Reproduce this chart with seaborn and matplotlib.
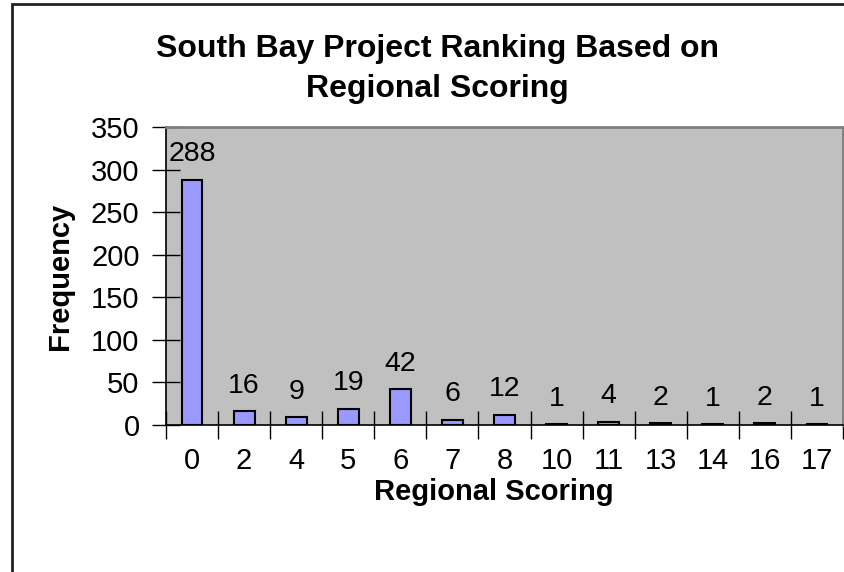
import matplotlib
matplotlib.use("Agg")
import matplotlib.pyplot as plt
import seaborn as sns
import pandas as pd
from matplotlib.patches import Rectangle

categories = ["0", "2", "4", "5", "6", "7", "8", "10", "11", "13", "14", "16", "17"]
frequency = [288, 16, 9, 19, 42, 6, 12, 1, 4, 2, 1, 2, 1]
title_lines = ["South Bay Project Ranking Based on", "Regional Scoring"]
xlabel = "Regional Scoring"
ylabel = "Frequency"

df = pd.DataFrame({"score": categories, "freq": frequency})

sns.set_theme(style="white")
plt.rcParams["font.family"] = ["Liberation Sans", "DejaVu Sans"]
plt.rcParams["text.color"] = "black"

W, H = 844, 572
fig = plt.figure(figsize=(W / 100, H / 100), dpi=100)
ax = fig.add_axes([166 / W, 1 - 425 / H, (843 - 166) / W, (425 - 127) / H])
ax.set_facecolor("#C0C0C0")

sns.barplot(data=df, x="score", y="freq", order=categories, ax=ax,
            color="#9999FF", saturation=1, width=0.4,
            edgecolor="black", linewidth=1.5)

ax.set_xlim(-0.5, len(categories) - 0.5)
ax.set_ylim(0, 350)
ax.set_yticks(range(0, 351, 50))
ax.set_xticks([i - 0.5 for i in range(len(categories) + 1)], minor=True)
ax.set_xticks(range(len(categories)))
ax.set_xticklabels(categories)

ax.tick_params(axis="x", which="major", length=0, pad=16, labelsize=21, colors="black")
ax.tick_params(axis="x", which="minor", direction="inout", length=20, width=1, colors="black", bottom=True)
ax.tick_params(axis="y", which="major", direction="inout", length=20, width=1, labelsize=21,
               pad=9, left=True, colors="black")

for s in ["left", "bottom"]:
    ax.spines[s].set_color("black")
    ax.spines[s].set_linewidth(1.2)
for s in ["top", "right"]:
    ax.spines[s].set_color("#808080")
    ax.spines[s].set_linewidth(2)

ax.set_xlabel("")
ax.set_ylabel("")

for c in ax.containers:
    ax.bar_label(c, labels=[str(v) for v in frequency], padding=9, fontsize=20.5, color="black")

fig.text(437 / W, 1 - 57 / H, title_lines[0], ha="center", va="baseline", fontsize=23,
         fontweight="bold", color="black")
fig.text(437 / W, 1 - 97 / H, title_lines[1], ha="center", va="baseline", fontsize=23,
         fontweight="bold", color="black")
fig.text(494 / W, 1 - 500 / H, xlabel, ha="center", va="baseline", fontsize=21,
         fontweight="bold", color="black")
fig.text(60 / W, 1 - 276 / H, ylabel, ha="center", va="center", rotation=90,
         fontsize=21, fontweight="bold", color="black")

fig.patches.append(Rectangle((12 / W, -0.1), 1.2, (1 - 4 / H) + 0.1, transform=fig.transFigure,
                             fill=False, edgecolor="#222222", linewidth=2, zorder=-1))

fig.savefig("out.png", dpi=100)
